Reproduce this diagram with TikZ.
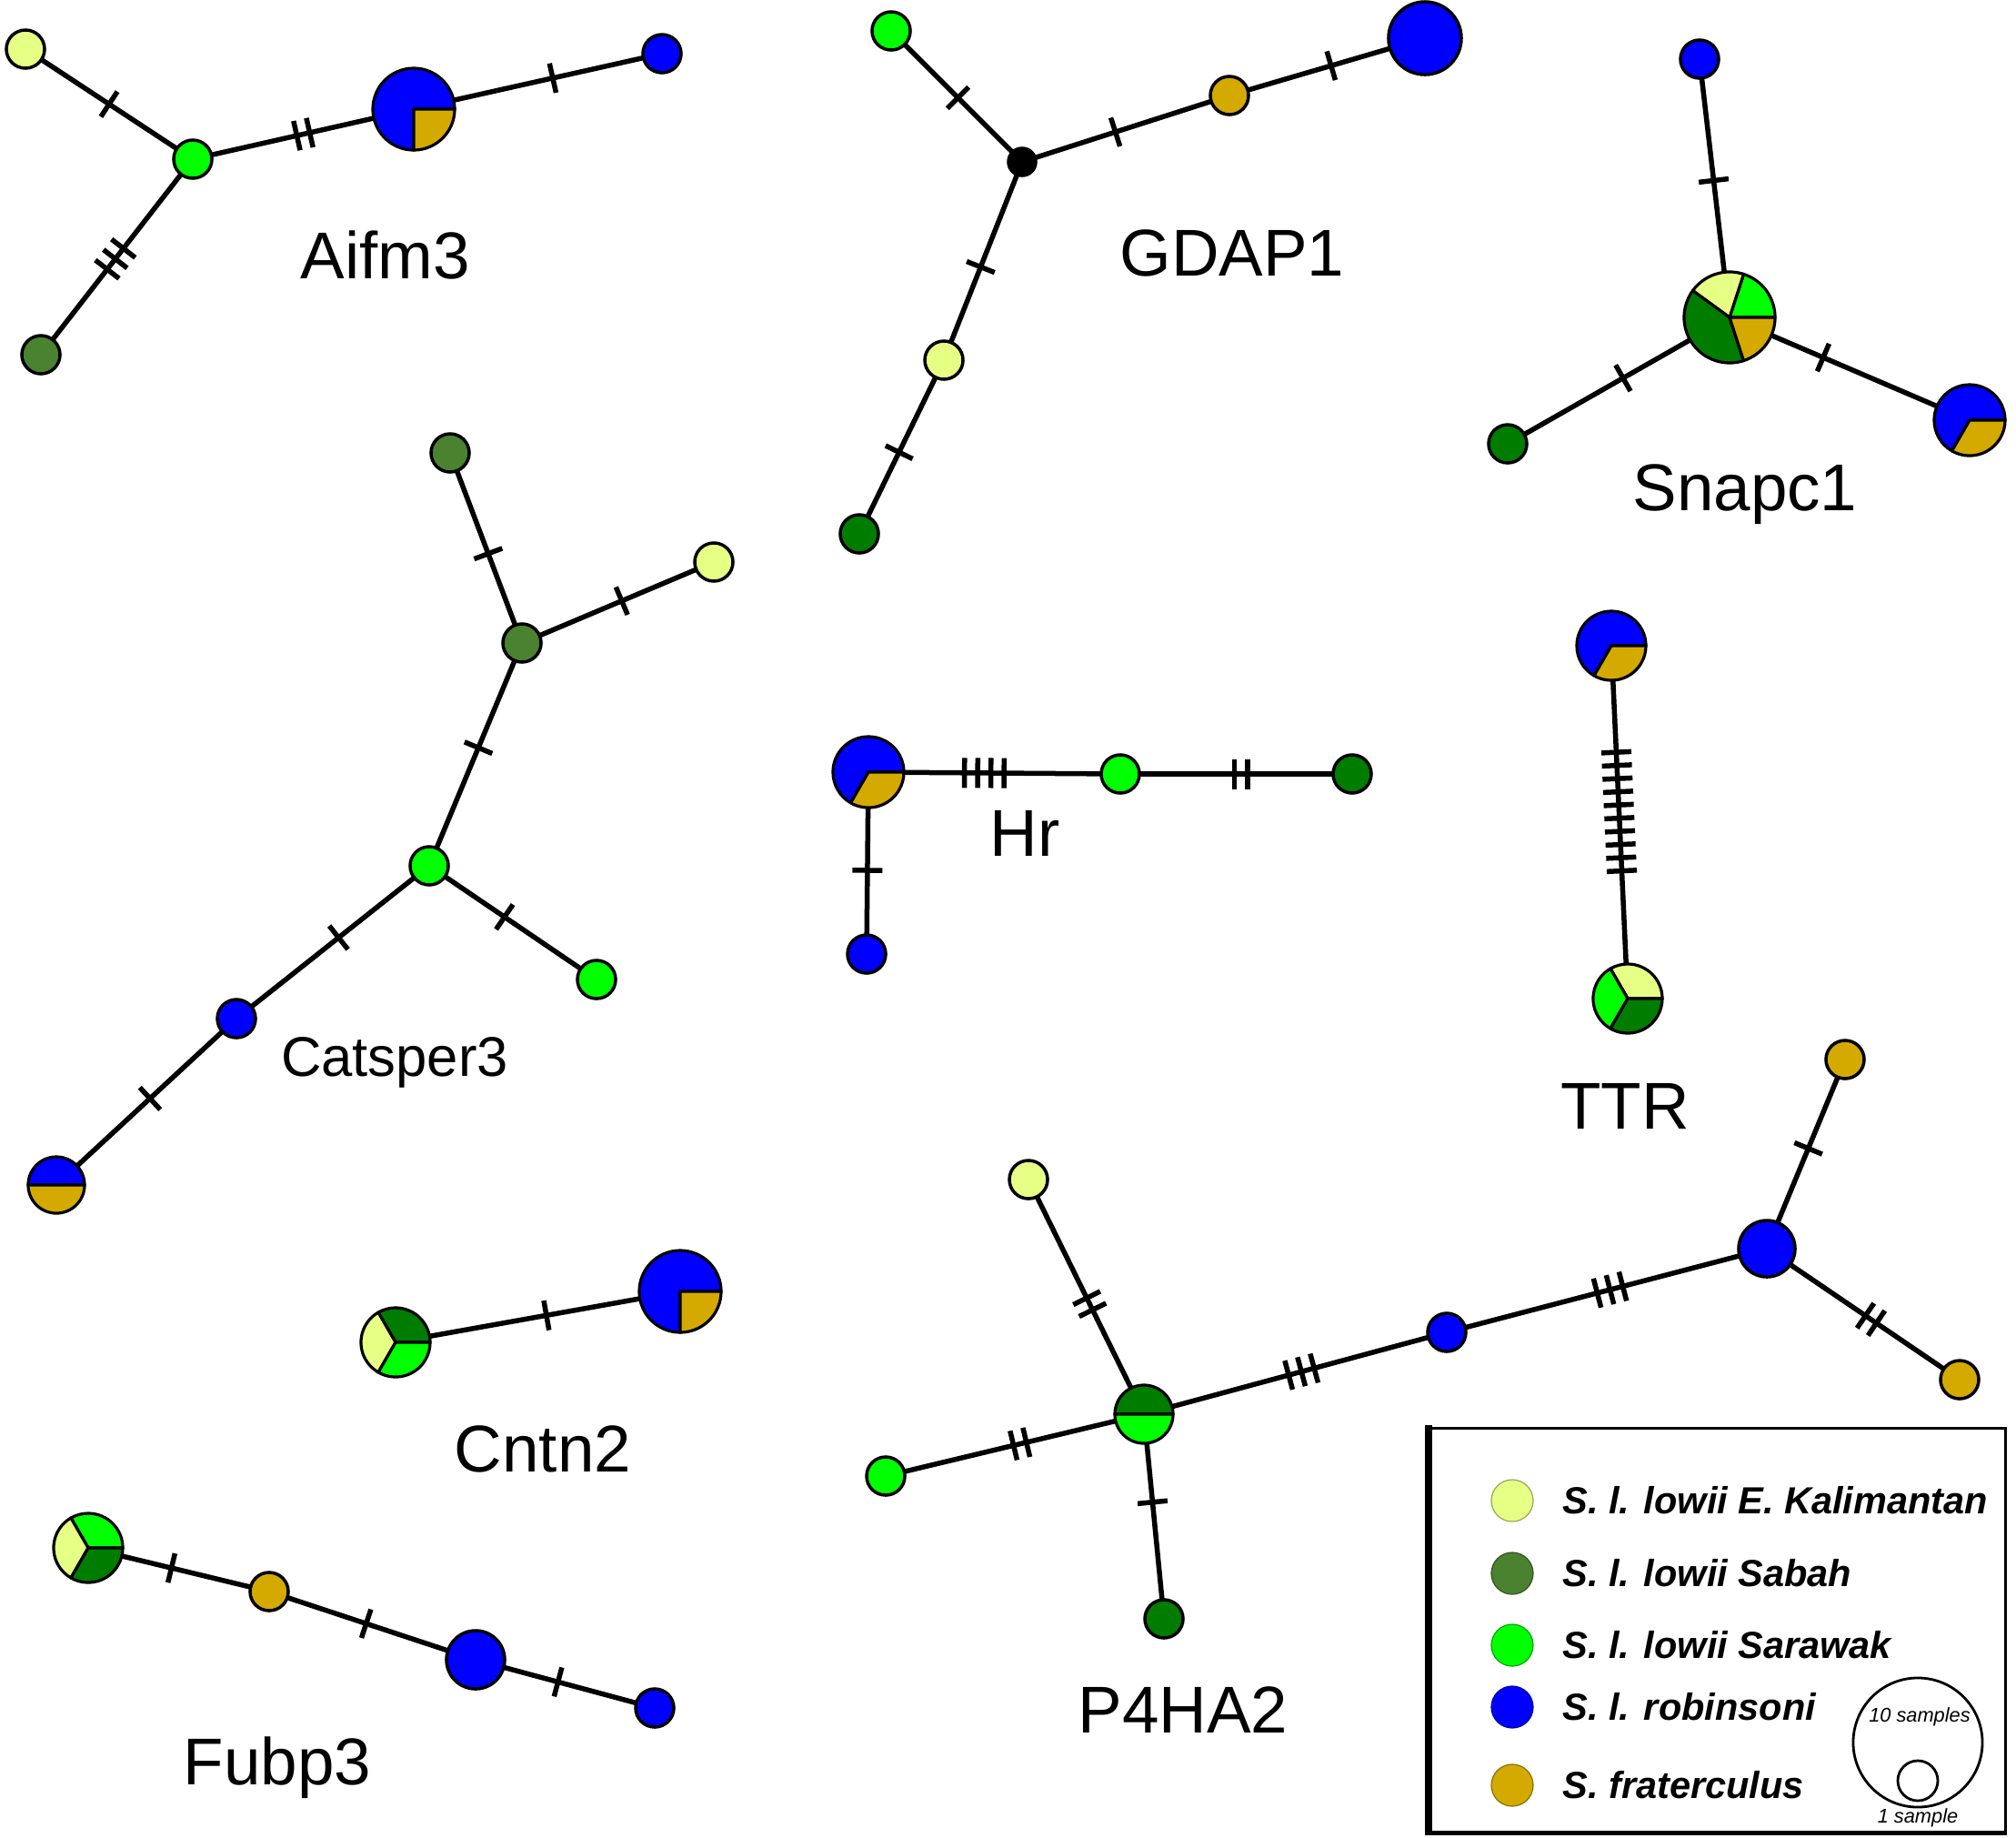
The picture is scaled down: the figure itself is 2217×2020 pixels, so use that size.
\documentclass[tikz,border=0pt]{standalone}
\usepackage{fontspec}
\setmainfont{Liberation Sans}
\usetikzlibrary{backgrounds}
\definecolor{lyel}{RGB}{230,255,133}
\definecolor{lgrn}{RGB}{0,255,0}
\definecolor{dgrn}{RGB}{0,125,0}
\definecolor{sabah}{RGB}{75,130,48}
\definecolor{hblue}{RGB}{0,0,255}
\definecolor{gold}{RGB}{212,170,0}
\newcommand\tkone{\rule{0.055cm}{0.33cm}}
\newcommand\tkgap{\hspace{0.09cm}}
\newcommand\tktwo{\tkone\tkgap\tkone}
\newcommand\tkthree{\tktwo\tkgap\tkone}
\newcommand\tkfour{\tkthree\tkgap\tkone}
\newcommand\tkten{\tkfour\tkgap\tkfour\tkgap\tktwo}
\newcommand\pieslice[5]{\filldraw[fill=#5,draw=black,line width=0.032cm,line join=round] (#1.center) -- ++(#3:#2) arc[start angle=#3,end angle=#4,radius=#2] -- cycle;}
\begin{document}
\begin{tikzpicture}[x=0.01cm,y=-0.01cm,
 hap/.style={circle,draw=black,line width=0.035cm,inner sep=0pt,minimum size=#1*0.02cm},
 pienode/.style={circle,inner sep=0pt,minimum size=#1*0.02cm},
 lnk/.style={line width=0.055cm},
 tk/.style={sloped,inner sep=0pt,outer sep=0pt,pos=#1},
 lbl/.style={font=\fontsize{20.7pt}{24pt}\selectfont,anchor=base,inner sep=0pt},
 key/.style={circle,fill=#1,draw=#1!65!black,line width=0.012cm,minimum size=0.46cm,inner sep=0pt},
 keytxt/.style={anchor=west,inner sep=0pt,font=\fontsize{11.8pt}{14pt}\selectfont\bfseries\itshape}]
\useasboundingbox (0,0) rectangle (2217,2020);

% ---------- Aifm3
\node[hap=21,fill=lyel] (a1) at (28,54) {};
\node[hap=21,fill=lgrn] (a2) at (212,175) {};
\node[hap=21,fill=sabah] (a3) at (45,390) {};
\node[pienode=45] (a4) at (455,120) {};
\node[hap=21,fill=hblue] (a5) at (728,59) {};
\pieslice{a4}{0.45cm}{0}{270}{hblue}
\pieslice{a4}{0.45cm}{270}{360}{gold}
\node[lbl] (la) at (424,306) {Aifm3};

% ---------- GDAP1
\node[hap=21,fill=lgrn] (g1) at (980,34) {};
\node[hap=15,fill=black] (g2) at (1124,178) {};
\node[hap=21,fill=gold] (g3) at (1352,105) {};
\node[hap=40,fill=hblue] (g4) at (1567,42) {};
\node[hap=21,fill=lyel] (g5) at (1038,396) {};
\node[hap=21,fill=dgrn] (g6) at (945,587) {};
\node[lbl] (lg) at (1355,303) {GDAP1};

% ---------- Snapc1
\node[hap=21,fill=hblue] (s1) at (1869,65) {};
\node[pienode=50] (s2) at (1902,349) {};
\node[hap=21,fill=dgrn] (s3) at (1658,488) {};
\node[pienode=39] (s4) at (2166,462) {};
\pieslice{s2}{0.5cm}{0}{72}{lgrn}
\pieslice{s2}{0.5cm}{72}{144}{lyel}
\pieslice{s2}{0.5cm}{144}{288}{dgrn}
\pieslice{s2}{0.5cm}{288}{360}{gold}
\pieslice{s4}{0.39cm}{0}{240}{hblue}
\pieslice{s4}{0.39cm}{240}{360}{gold}
\node[lbl] (ls) at (1919,561) {Snapc1};

% ---------- Catsper3
\node[hap=21,fill=sabah] (c1) at (495,498) {};
\node[hap=21,fill=sabah] (c2) at (574,707) {};
\node[hap=21,fill=lyel] (c3) at (785,618) {};
\node[hap=21,fill=lgrn] (c4) at (472,952) {};
\node[hap=21,fill=lgrn] (c5) at (656,1077) {};
\node[hap=21,fill=hblue] (c6) at (260,1120) {};
\node[pienode=31] (c7) at (62,1303) {};
\pieslice{c7}{0.31cm}{0}{180}{hblue}
\pieslice{c7}{0.31cm}{180}{360}{gold}
\node[lbl,font=\fontsize{17.5pt}{21pt}\selectfont] (lc) at (434,1183) {Catsper3};

% ---------- Hr
\node[pienode=39] (h1) at (955,849) {};
\node[hap=21,fill=lgrn] (h2) at (1232,851) {};
\node[hap=21,fill=dgrn] (h3) at (1487,851) {};
\node[hap=21,fill=hblue] (h4) at (953,1049) {};
\pieslice{h1}{0.39cm}{0}{240}{hblue}
\pieslice{h1}{0.39cm}{240}{360}{gold}
\node[lbl] (lh) at (1127,941) {Hr};

% ---------- TTR
\node[pienode=38] (tt1) at (1772,710) {};
\node[pienode=38] (tt2) at (1790,1098) {};
\pieslice{tt1}{0.38cm}{0}{240}{hblue}
\pieslice{tt1}{0.38cm}{240}{360}{gold}
\pieslice{tt2}{0.38cm}{0}{120}{lyel}
\pieslice{tt2}{0.38cm}{120}{240}{lgrn}
\pieslice{tt2}{0.38cm}{240}{360}{dgrn}
\node[lbl] (lt) at (1787,1241) {TTR};

% ---------- Cntn2
\node[pienode=38] (n1) at (435,1476) {};
\node[pienode=45] (n2) at (748,1420) {};
\pieslice{n1}{0.38cm}{0}{120}{dgrn}
\pieslice{n1}{0.38cm}{120}{240}{lyel}
\pieslice{n1}{0.38cm}{240}{360}{lgrn}
\pieslice{n2}{0.45cm}{0}{270}{hblue}
\pieslice{n2}{0.45cm}{270}{360}{gold}
\node[lbl] (ln) at (597,1618) {Cntn2};

% ---------- Fubp3
\node[pienode=38] (f1) at (97,1702) {};
\node[hap=21,fill=gold] (f2) at (296,1750) {};
\node[hap=32,fill=hblue] (f3) at (523,1825) {};
\node[hap=21,fill=hblue] (f4) at (720,1878) {};
\pieslice{f1}{0.38cm}{0}{120}{lgrn}
\pieslice{f1}{0.38cm}{120}{240}{lyel}
\pieslice{f1}{0.38cm}{240}{360}{dgrn}
\node[lbl] (lf) at (305,1962) {Fubp3};

% ---------- P4HA2
\node[pienode=32] (p1) at (1258,1555) {};
\node[hap=21,fill=lyel] (p2) at (1131,1297) {};
\node[hap=21,fill=lgrn] (p3) at (974,1623) {};
\node[hap=21,fill=dgrn] (p4) at (1280,1780) {};
\node[hap=21,fill=hblue] (p5) at (1591,1465) {};
\node[hap=31,fill=hblue] (p6) at (1943,1373) {};
\node[hap=21,fill=gold] (p7) at (2029,1165) {};
\node[hap=21,fill=gold] (p8) at (2155,1517) {};
\pieslice{p1}{0.32cm}{0}{180}{dgrn}
\pieslice{p1}{0.32cm}{180}{360}{lgrn}
\node[lbl] (lp) at (1301,1905) {P4HA2};

% ---------- connectors
\begin{scope}[on background layer]
\draw[lnk] (a1.center) -- (a2.center) node[tk=0.5]{\tkone};
\draw[lnk] (a2.center) -- (a4.center) node[tk=0.5]{\tktwo};
\draw[lnk] (a2.center) -- (a3.center) node[tk=0.51]{\tkthree};
\draw[lnk] (a4.center) -- (a5.center) node[tk=0.56]{\tkone};
\draw[lnk] (g1.center) -- (g2.center) node[tk=0.51]{\tkone};
\draw[lnk] (g2.center) -- (g3.center) node[tk=0.45]{\tkone};
\draw[lnk] (g3.center) -- (g4.center) node[tk=0.52]{\tkone};
\draw[lnk] (g2.center) -- (g5.center) node[tk=0.53]{\tkone};
\draw[lnk] (g5.center) -- (g6.center) node[tk=0.53]{\tkone};
\draw[lnk] (s1.center) -- (s2.center) node[tk=0.47]{\tkone};
\draw[lnk] (s2.center) -- (s3.center) node[tk=0.48]{\tkone};
\draw[lnk] (s2.center) -- (s4.center) node[tk=0.39]{\tkone};
\draw[lnk] (c1.center) -- (c2.center) node[tk=0.53]{\tkone};
\draw[lnk] (c2.center) -- (c3.center) node[tk=0.52]{\tkone};
\draw[lnk] (c2.center) -- (c4.center) node[tk=0.47]{\tkone};
\draw[lnk] (c4.center) -- (c5.center) node[tk=0.45]{\tkone};
\draw[lnk] (c4.center) -- (c6.center) node[tk=0.47]{\tkone};
\draw[lnk] (c6.center) -- (c7.center) node[tk=0.48]{\tkone};
\draw[lnk] (h1.center) -- (h2.center) node[tk=0.46]{\tkfour};
\draw[lnk] (h2.center) -- (h3.center) node[tk=0.52]{\tktwo};
\draw[lnk] (h1.center) -- (h4.center) node[tk=0.54]{\tkone};
\draw[lnk] (tt1.center) -- (tt2.center) node[tk=0.47]{\tkten};
\draw[lnk] (n1.center) -- (n2.center) node[tk=0.53]{\tkone};
\draw[lnk] (f1.center) -- (f2.center) node[tk=0.46]{\tkone};
\draw[lnk] (f2.center) -- (f3.center) node[tk=0.47]{\tkone};
\draw[lnk] (f3.center) -- (f4.center) node[tk=0.46]{\tkone};
\draw[lnk] (p1.center) -- (p2.center) node[tk=0.47]{\tktwo};
\draw[lnk] (p1.center) -- (p3.center) node[tk=0.48]{\tktwo};
\draw[lnk] (p1.center) -- (p4.center) node[tk=0.43]{\tkone};
\draw[lnk] (p1.center) -- (p5.center) node[tk=0.52]{\tkthree};
\draw[lnk] (p5.center) -- (p6.center) node[tk=0.51]{\tkthree};
\draw[lnk] (p6.center) -- (p7.center) node[tk=0.53]{\tkone};
\draw[lnk] (p6.center) -- (p8.center) node[tk=0.54]{\tktwo};
\end{scope}

% ---------- legend
\draw[line width=0.03cm] (1571,1570) rectangle (2205,2015);
\draw[line width=0.08cm] (1571,1567) -- (1571,2018);
\draw[line width=0.05cm] (1568,2015) -- (2207,2015);
\node[key=lyel] (k1) at (1663,1650) {};
\node[key=sabah] (k2) at (1663,1730) {};
\node[key=lgrn] (k3) at (1663,1809) {};
\node[key=hblue] (k4) at (1663,1877) {};
\node[key=gold] (k5) at (1663,1963) {};
\node[keytxt] (lt1) at (1718,1650) {S. l. lowii E. Kalimantan};
\node[keytxt] (lt2) at (1718,1730) {S. l. lowii Sabah};
\node[keytxt] (lt3) at (1718,1809) {S. l. lowii Sarawak};
\node[keytxt] (lt4) at (1718,1877) {S. l. robinsoni};
\node[keytxt] (lt5) at (1718,1963) {S. fraterculus};
\node[circle,draw,line width=0.028cm,minimum size=1.42cm,inner sep=0pt] (big) at (2109,1916) {};
\node[circle,draw,line width=0.028cm,minimum size=0.44cm,inner sep=0pt] (small) at (2109,1958) {};
\node[anchor=base,inner sep=0pt,font=\fontsize{6.2pt}{7pt}\selectfont\itshape] (ten) at (2111,1893) {10 samples};
\node[anchor=base,inner sep=0pt,font=\fontsize{6.2pt}{7pt}\selectfont\itshape] (one) at (2109,2004) {1 sample};
\end{tikzpicture}
\end{document}
